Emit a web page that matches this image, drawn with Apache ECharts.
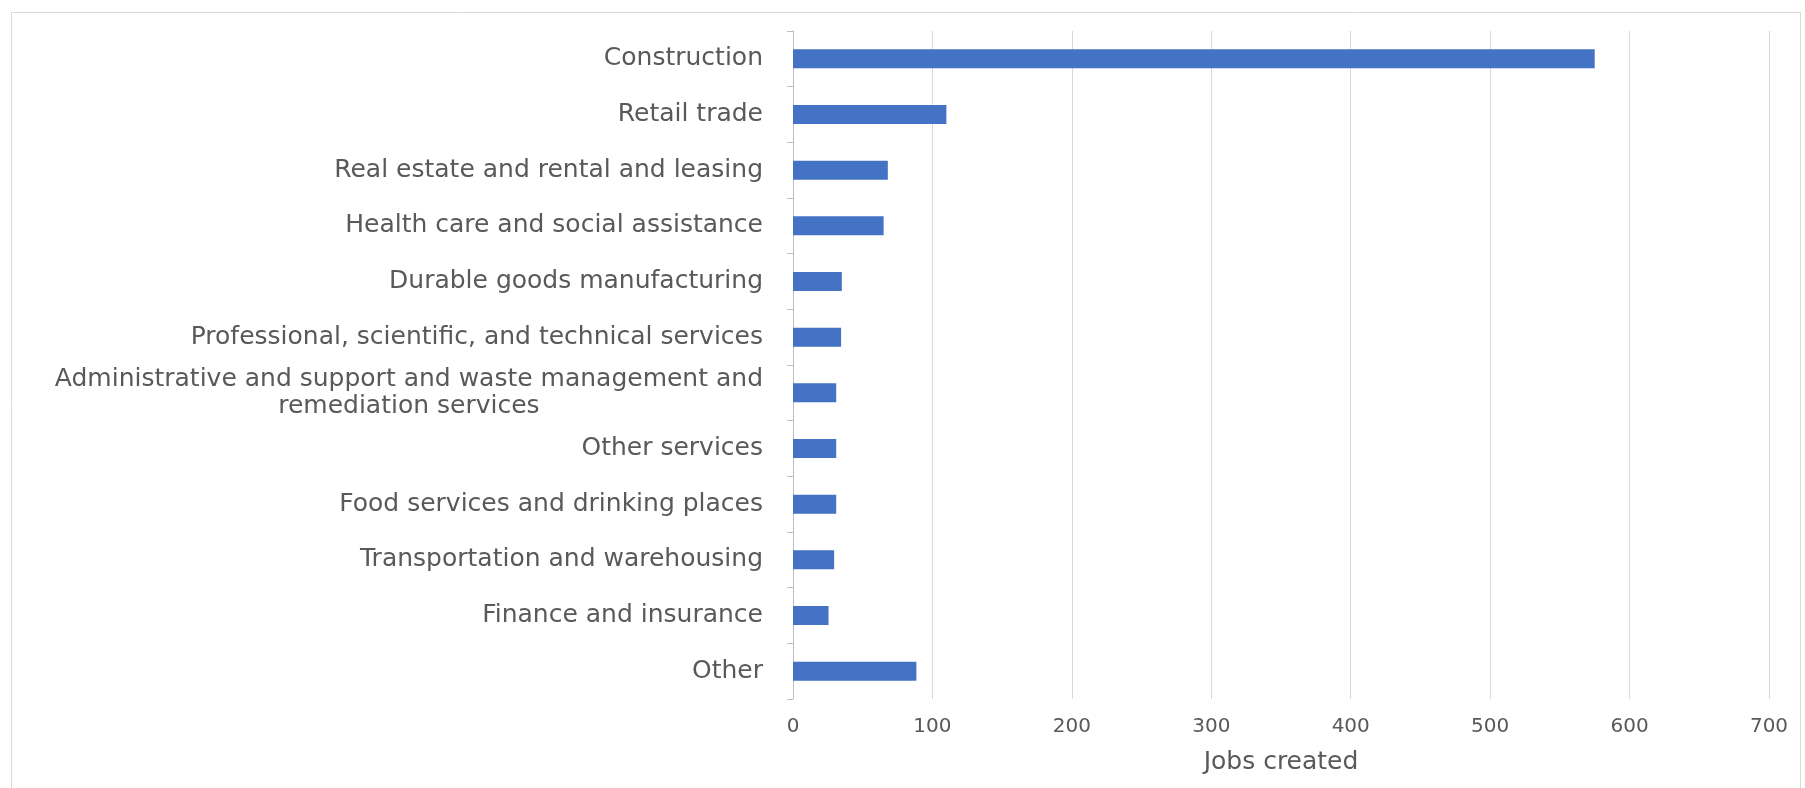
<!DOCTYPE html>
<html>
<head>
<meta charset="utf-8">
<title>Jobs created by industry</title>
<script src="https://cdn.jsdelivr.net/npm/echarts@6/dist/echarts.min.js"></script>
<style>
  html, body { margin: 0; padding: 0; background: #ffffff; }
  #chart { width: 1805px; height: 788px; }
</style>
</head>
<body>
<div id="chart"></div>
<script>
// Industries, listed top to bottom
const industries = [
  'Construction',
  'Retail trade',
  'Real estate and rental and leasing',
  'Health care and social assistance',
  'Durable goods manufacturing',
  'Professional, scientific, and technical services',
  'Administrative and support and waste management and\nremediation services',
  'Other services',
  'Food services and drinking places',
  'Transportation and warehousing',
  'Finance and insurance',
  'Other'
];

// Jobs created in each industry
const jobsCreated = [575, 110, 68, 65, 35, 34.5, 31, 31, 31, 29.5, 25.5, 88.5];

// Value axis ticks
const xTicks = [0, 100, 200, 300, 400, 500, 600, 700];

const textColor = '#595959';
const labelFont = '"DejaVu Sans", "Open Sans", sans-serif';

const chart = echarts.init(document.getElementById('chart'), null, { renderer: 'canvas' });

chart.setOption({
  backgroundColor: '#ffffff',
  animation: false,
  graphic: [{
    type: 'rect',
    left: 9, top: 10,
    shape: { width: 1789, height: 776 },
    style: { fill: 'none', stroke: '#d9d9d9', lineWidth: 1 },
    silent: true
  }],
  grid: { left: 793, right: 36, top: 31, bottom: 89, containLabel: false },
  xAxis: {
    type: 'value',
    min: xTicks[0],
    max: xTicks[xTicks.length - 1],
    interval: xTicks[1] - xTicks[0],
    name: 'Jobs created',
    nameLocation: 'middle',
    nameGap: 51,
    nameTextStyle: { color: textColor, fontSize: 25, fontFamily: labelFont },
    axisLine: { show: false },
    axisTick: { show: false },
    axisLabel: { color: textColor, fontSize: 20, fontFamily: labelFont, margin: 18 },
    splitLine: { show: true, lineStyle: { color: '#d9d9d9', width: 1 } }
  },
  yAxis: {
    type: 'category',
    inverse: true,
    data: industries,
    axisLine: { show: true, lineStyle: { color: '#bfbfbf', width: 1 } },
    axisTick: { show: true, length: 6, lineStyle: { color: '#bfbfbf' } },
    axisLabel: {
      color: textColor,
      fontSize: 25,
      fontFamily: labelFont,
      margin: 30,
      align: 'right',
      lineHeight: 27,
      formatter: function (v) {
        // multi-line names are centred line by line
        return v.split('\n').map(function (s) { return '{c|' + s + '}'; }).join('\n');
      },
      rich: {
        c: { align: 'center', color: textColor, fontSize: 25, fontFamily: labelFont, lineHeight: 27 }
      }
    },
    splitLine: { show: false }
  },
  series: [{
    type: 'bar',
    data: jobsCreated,
    barWidth: 19,
    itemStyle: { color: '#4472c4' }
  }]
});
</script>
</body>
</html>
